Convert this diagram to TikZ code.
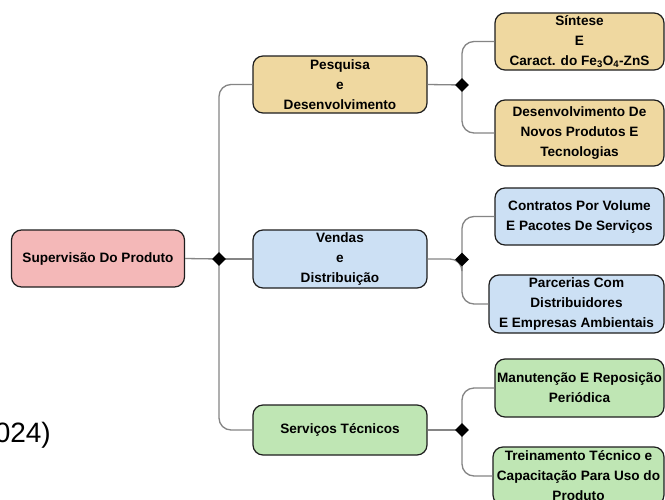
\documentclass[tikz,border=0pt]{standalone}
\usepackage{fontspec}
\setmainfont{Liberation Sans}
\usetikzlibrary{shapes.geometric}
\definecolor{pinkc}{HTML}{F4B8B8}
\definecolor{tanc}{HTML}{EFD8A0}
\definecolor{bluec}{HTML}{CCE0F4}
\definecolor{greenc}{HTML}{BFE6B4}
\definecolor{edgec}{HTML}{1E1E1E}
\definecolor{linec}{HTML}{858585}
\begin{document}
\begin{tikzpicture}[x=1pt,y=-1pt,
  box/.style={draw=edgec, line width=1.2pt, rounded corners=10pt, align=center,
    font=\fontsize{13.6}{20}\selectfont\bfseries, inner sep=0pt},
  conn/.style={draw=linec, line width=1.3pt, rounded corners=12pt},
  junc/.style={diamond, fill=black, draw=none, inner sep=0pt, minimum size=14pt}]
\useasboundingbox (0,0) rectangle (665,499);
\fill[white] (0,0) rectangle (665,499);

% root
\node[box, fill=pinkc, minimum width=173pt, minimum height=57pt] (root) at (98,258.5) {Supervisão Do Produto};

% level 1
\node[box, fill=tanc, minimum width=174pt, minimum height=57pt] (p1) at (340,84.5) {Pesquisa\\e\\Desenvolvimento};
\node[box, fill=bluec, minimum width=174pt, minimum height=58pt] (v1) at (340,259) {Vendas\\e\\Distribuição};
\node[box, fill=greenc, minimum width=174pt, minimum height=50pt] (s1) at (340,430) {Serviços Técnicos};

% level 2
\node[box, fill=tanc, minimum width=169pt, minimum height=57pt] (a1) at (579.5,41.5) {Síntese\\E\\Caract. do Fe\textsubscript{3}O\textsubscript{4}-ZnS};
\node[box, fill=tanc, minimum width=169pt, minimum height=66pt] (a2) at (579.5,133) {Desenvolvimento De\\Novos Produtos E\\Tecnologias};
\node[box, fill=bluec, minimum width=169pt, minimum height=57pt] (b1) at (579.5,216.5) {Contratos Por Volume\\E Pacotes De Serviços};
\node[box, fill=bluec, minimum width=175pt, minimum height=58pt] (b2) at (576.5,304) {Parcerias Com\\Distribuidores\\E Empresas Ambientais};
\node[box, fill=greenc, minimum width=169pt, minimum height=58pt] (c1) at (579.5,388) {Manutenção E Reposição\\Periódica};
\node[box, fill=greenc, minimum width=171pt, minimum height=58pt] (c2) at (578.5,476) {Treinamento Técnico e\\Capacitação Para Uso do\\Produto};

% junctions
\coordinate (J0) at (219,259);
\coordinate (J1) at (462,85);
\coordinate (J2) at (462,259.5);
\coordinate (J3) at (462,430);

% connectors
\draw[conn] (root.east) -- (J0);
\draw[conn] (J0) -- (v1.west);
\draw[conn] (p1.west) -| (J0);
\draw[conn] (s1.west) -| (J0);

\draw[conn] (p1.east) -- (J1);
\draw[conn] (a1.west) -| (J1);
\draw[conn] (a2.west) -| (J1);

\draw[conn] (v1.east) -- (v1.east -| J2) -- (J2);
\draw[conn] (b1.west) -| (J2);
\draw[conn] (b2.west) -| (J2);

\draw[conn] (s1.east) -- (J3);
\draw[conn] (c1.west) -| (J3);
\draw[conn] (c2.west) -| (J3);

\node[junc] (d0) at (J0) {};
\node[junc] (d1) at (J1) {};
\node[junc] (d2) at (J2) {};
\node[junc] (d3) at (J3) {};

% cut-off text at left
\node[anchor=base east, inner sep=0pt, font=\fontsize{28}{28}\selectfont] (yr) at (51,442) {024)};
\end{tikzpicture}
\end{document}
